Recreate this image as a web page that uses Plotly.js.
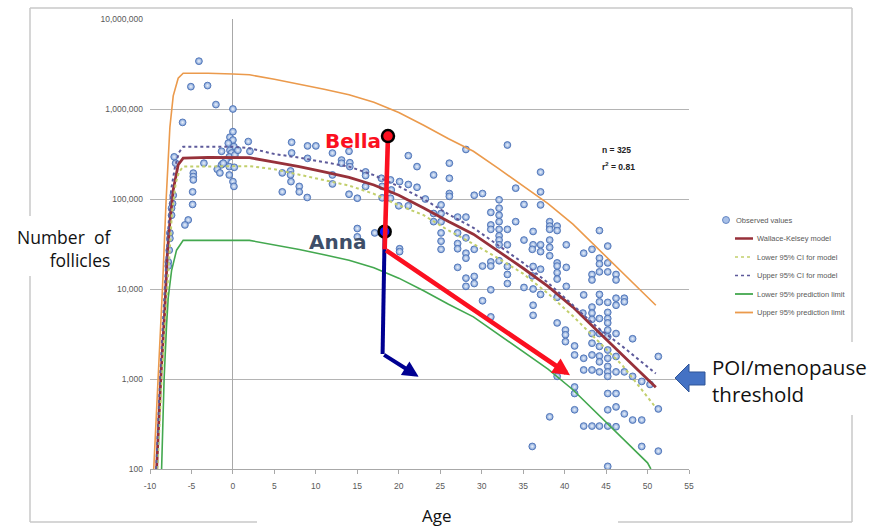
<!DOCTYPE html>
<html>
<head>
<meta charset="utf-8">
<script src="https://cdn.plot.ly/plotly-3.0.1.min.js"></script>
<style>
  html, body { margin: 0; padding: 0; background: #ffffff; }
  #chart { width: 873px; height: 527px; }
</style>
</head>
<body>
<div id="chart"></div>
<script>
// ---------------- data ----------------
// Observed non-growing follicle counts: age (years) and count
const obsAge = [
  -0.36, 0, -0.56, 0.12, -0.36, -0.16, -0.44, 0.24, 0.6, -0.84,
  -1.37, -1.37, -1.89, -1.57, -1.17, -0.44, 0.16, -0.44, 0, 0.12,
  -3.5, -4.78, -4.78, -4.78, -4.86, -4.86, -5.39, -5.79, -7.08, -6.91,
  -7.2, -7.28, -7.4, -7.4, -7.6, -7.6, -7.68, -7.8, -7.8, 1.85,
  -4.1, -5.07, -3.06, -2.05, 0, -6.07, 0,
  2.05, 7.08, 7.08, 9.0, 10.0, 9.0, 12.0, 14.0, 13.1, 13.1,
  14.1, 14.1, 5.95, 6.95, 6.95, 7.0, 5.95, 8.0, 8.0, 8.96,
  12.0, 12.0, 14.0, 15.0, 16.0, 16.0, 16.0, 17.9, 19.0, 20.1,
  18.0, 19.1, 18.0, 19.0, 20.0, 15.0, 15.0, 17.1, 20.1, 20.1,
  21.15, 22.2, 21.15, 22.2, 21.15, 23.2, 24.2, 26.1, 26.1, 26.1,
  26.1, 28.1, 29.1, 30.1, 33.1, 34.1, 24.2, 24.2, 25.1, 25.1,
  25.1, 25.1, 25.1, 25.1, 27.1, 28.1, 28.1, 27.1, 27.1, 28.1,
  28.1, 27.1, 29.1, 30.1, 31.1, 31.1, 31.1, 31.1, 31.1, 32.1,
  32.1, 32.1, 32.1, 32.1, 32.1, 32.1, 32.1, 32.1, 33.1, 33.1,
  33.1, 33.1, 33.1, 34.1, 35.1, 35.1, 36.2, 36.2, 36.2, 36.2,
  36.2, 36.2, 35.1, 28.1, 28.1, 29.1, 29.1, 31.1, 30.1, 31.1,
  27.1,
  37.1, 37.1, 37.1, 38.2, 38.2, 38.2, 39.1, 39.1, 36.1, 37.1,
  37.1, 38.2, 38.2, 38.2, 40.2, 42.3, 36.1, 37.1, 39.1, 39.1,
  39.1, 40.2, 39.1, 40.2, 37.1, 39.1, 39.1, 40.1, 40.1, 40.1,
  41.2, 41.2, 42.2, 42.3, 42.3, 42.3, 41.2, 41.2, 41.2, 42.3,
  38.2, 36.1, 39.1,
  43.3, 43.3, 43.3, 43.3, 43.3, 43.3, 43.3, 43.3, 43.3, 43.3,
  43.3,
  44.2, 44.2, 44.2, 44.2, 44.2, 44.2, 44.2, 44.2, 44.2, 44.2,
  44.2, 44.2, 44.2,
  45.2, 45.2, 45.2, 45.2, 45.2, 45.2, 45.2, 45.2, 45.2, 45.2,
  45.2, 45.2, 45.2, 45.2, 45.2, 45.2, 45.2, 45.2,
  46.2, 46.2, 46.2, 46.2, 46.2, 46.2, 46.2, 46.2, 46.2, 46.2,
  47.2, 47.2, 47.2, 47.2,
  48.2, 48.2, 48.2,
  49.3, 49.3, 49.3,
  50.3,
  51.3, 51.3, 51.3
];
const obsCount = [
  486000, 452000, 417000, 382000, 348000, 325000, 294000, 309000, 348000, 271000,
  339000, 240000, 214000, 195000, 250000, 229000, 225000, 185000, 156000, 138000,
  250000, 194000, 178000, 163000, 120000, 87000, 58500, 51500, 294000, 250000,
  110000, 89000, 79000, 66000, 42000, 36500, 27000, 20000, 18000, 435000,
  3400000, 1770000, 1820000, 1120000, 1000000, 710000, 560000,
  339000, 427000, 325000, 389000, 389000, 283000, 324000, 339000, 271000, 250000,
  253000, 229000, 195000, 205000, 185000, 156000, 120000, 138000, 120000, 104000,
  185000, 147000, 113000, 102000, 200000, 182000, 138000, 170000, 163000, 156000,
  138000, 126000, 103000, 102000, 84000, 47000, 38000, 42000, 28000, 26000,
  303000, 229000, 145000, 135000, 84000, 100000, 185000, 250000, 170000, 115000,
  107000, 355000, 110000, 115000, 398000, 132000, 69000, 56000, 86000, 69000,
  56000, 42000, 34000, 27600, 63000, 63000, 37000, 32000, 28000, 25000,
  22000, 17400, 27600, 18000, 71000, 51500, 46000, 20000, 18000, 98000,
  79000, 66000, 56000, 46000, 39000, 35000, 31000, 20600, 46000, 31000,
  17800, 14500, 11500, 56000, 87000, 35000, 43600, 31000, 17800, 10000,
  6600, 5100, 10400, 13200, 10700, 13800, 11500, 9800, 7400, 4900,
  42000,
  199000, 120000, 86000, 56000, 50000, 46000, 50000, 44600, 27600, 31000,
  26000, 35000, 29000, 23400, 31000, 25000, 14000, 16600, 19500, 18000,
  15200, 17400, 12900, 10700, 8700, 8100, 4200, 3500, 3100, 2600,
  2330, 1850, 5400, 8600, 1700, 1260, 815, 690, 455, 300,
  380, 178, 1070,
  27600, 14500, 12600, 6300, 5400, 4600, 3200, 2500, 1850, 1260,
  300,
  44600, 22000, 19000, 15500, 8700, 7200, 4700, 3200, 2300, 1800,
  1550, 1200, 300,
  30000, 19500, 15500, 7100, 5500, 4700, 4200, 3500, 2950, 2100,
  1700, 1380, 1200, 1070, 690, 455, 300, 107,
  14500, 12600, 7900, 6600, 3200, 1780, 1200, 690, 490, 295,
  7900, 7200, 1200, 410,
  2800, 1070, 350,
  940, 350, 178,
  870,
  1780, 465, 158
];

// Wallace-Kelsey model curve
const modelAge   = [-9.2, -8.7, -8.2, -7.9, -7.6, -7.2, -6.6, -6.0, -3, 0, 2, 5, 8, 11, 14, 17, 20, 23, 26, 29, 32, 35, 38, 41, 44, 47, 50, 51];
const modelCount = [100, 1000, 6300, 25000, 56000, 126000, 240000, 285000, 290000, 288000, 288000, 257000, 229000, 200000, 174000, 143000, 110000, 79400, 56200, 40700, 26300, 17000, 10700, 6300, 3390, 1820, 980, 810];

// 95% confidence interval for the model
const lowerCIAge   = [-9.1, -8.6, -8.1, -7.75, -7.35, -6.9, -6.5, -6.0, -3, 0, 2, 5, 8, 11, 14, 17, 20, 23, 26, 29, 32, 35, 38, 41, 44, 47, 50, 51];
const lowerCICount = [100, 1000, 5000, 20000, 70000, 150000, 200000, 229000, 230000, 232000, 232000, 214000, 186000, 162000, 141000, 114000, 85100, 66100, 44700, 31600, 21900, 14800, 8900, 5000, 2630, 1410, 630, 480];
const upperCIAge   = [-9.25, -8.75, -8.25, -7.85, -7.45, -7.0, -6.5, -6.0, -3, 0, 2, 5, 8, 11, 14, 17, 20, 23, 26, 29, 32, 35, 38, 41, 44, 47, 50, 51];
const upperCICount = [100, 1200, 9000, 40000, 126000, 224000, 330000, 380000, 380000, 380000, 367000, 316000, 288000, 257000, 229000, 184000, 138000, 100000, 67600, 47900, 30200, 19500, 11700, 6600, 3720, 2290, 1350, 1150];

// 95% prediction limits
const lowerPIAge   = [-8.6, -8.3, -8.0, -7.8, -7.4, -6.8, -6.0, -3, 0, 2, 5, 8, 11, 14, 17, 20, 23, 26, 29, 32, 35, 38, 41, 44, 47, 50, 50.4];
const lowerPICount = [100, 1000, 4000, 8000, 16000, 27000, 34700, 35000, 34700, 34700, 30900, 27500, 24000, 20900, 17200, 13200, 9550, 6760, 4900, 3160, 2040, 1290, 760, 410, 219, 117, 100];
const upperPIAge   = [-9.55, -9.0, -8.5, -8.05, -7.6, -7.2, -6.6, -6.0, -3, 0, 2, 5, 8, 11, 14, 17, 20, 23, 26, 29, 32, 35, 38, 41, 44, 47, 50, 51];
const upperPICount = [100, 1000, 10000, 100000, 630000, 1400000, 2200000, 2500000, 2500000, 2450000, 2400000, 2140000, 1900000, 1660000, 1440000, 1190000, 912000, 661000, 468000, 339000, 219000, 141000, 89000, 52500, 28200, 15100, 8100, 6600];

// Two example trajectories: start, bend, arrow tip
const bellaAge   = [18.7, 18.3, 40.65];
const bellaCount = [500000, 27600, 1100];
const annaAge    = [18.3, 18.05, 22.4];
const annaCount  = [43400, 1900, 1060];

// Axis ticks
const xTickVals = [-10, -5, 0, 5, 10, 15, 20, 25, 30, 35, 40, 45, 50, 55];
const xTickText = ['-10', '-5', '0', '5', '10', '15', '20', '25', '30', '35', '40', '45', '50', '55'];
const yTickVals = [100, 1000, 10000, 100000, 1000000, 10000000];
const yTickText = ['100', '1,000', '10,000', '100,000', '1,000,000', '10,000,000'];

// Legend entries
const legendLabels = ['Observed values', 'Wallace-Kelsey model', 'Lower 95% CI for model',
                      'Upper 95% CI for model', 'Lower 95% prediction limit', 'Upper 95% prediction limit'];

// ---------------- styling ----------------
const C = {
  obsFill: '#7c9fd6', obsEdge: '#4d72b6', obsCore: '#eef3fb',
  model: '#97313a', lowerCI: '#c2cf6c', upperCI: '#5d5a9a',
  lowerPI: '#43a84f', upperPI: '#eb9a4c',
  bella: '#fb1020', anna: '#000092', grid: '#b4b4b4', tick: '#595959', frame: '#c9c9c9'
};

// page-pixel helpers for the decorations around the plot area
const X0 = 150, X1 = 689, Y0 = 19, Y1 = 469;
const px = x => (x - X0) / (X1 - X0);
const py = y => (Y1 - y) / (Y1 - Y0);

function curve(x, y, color, width, dash) {
  return { type: 'scatter', mode: 'lines', x: x, y: y, hoverinfo: 'skip',
           line: { color: color, width: width, dash: dash || 'solid' } };
}

const traces = [
  { type: 'scatter', mode: 'markers', x: obsAge, y: obsCount, hoverinfo: 'skip',
    marker: { size: 6.8, color: C.obsFill, line: { color: C.obsEdge, width: 0.9 },
              gradient: { type: 'radial', color: C.obsCore } } },
  curve(modelAge, modelCount, C.model, 2.8),
  curve(lowerCIAge, lowerCICount, C.lowerCI, 2, 'dot'),
  curve(upperCIAge, upperCICount, C.upperCI, 2, 'dot'),
  curve(lowerPIAge, lowerPICount, C.lowerPI, 1.6),
  curve(upperPIAge, upperPICount, C.upperPI, 1.6),
  // trajectory legs up to the bend; the final leg is drawn as an arrow below
  curve(annaAge.slice(0, 2), annaCount.slice(0, 2), C.anna, 4),
  { type: 'scatter', mode: 'markers', x: [annaAge[0]], y: [annaCount[0]], hoverinfo: 'skip',
    marker: { size: 12, color: '#0a14ff', line: { color: '#000000', width: 2.5 } } },
  curve(bellaAge.slice(0, 2), bellaCount.slice(0, 2), C.bella, 4.6),
  { type: 'scatter', mode: 'markers', x: [bellaAge[0]], y: [bellaCount[0]], hoverinfo: 'skip',
    marker: { size: 12, color: C.bella, line: { color: '#000000', width: 2.5 } } }
];

// outer frame, broken where the labels sit
function seg(x0, y0, x1, y1) {
  return { type: 'line', xref: 'paper', yref: 'paper', layer: 'above',
           x0: px(x0), y0: py(y0), x1: px(x1), y1: py(y1),
           line: { color: C.frame, width: 1.5 } };
}
const shapes = [
  seg(30, 8, 852, 8),
  seg(30, 8, 30, 216), seg(30, 276, 30, 522),
  seg(852, 8, 852, 342), seg(852, 415, 852, 522),
  seg(30, 522, 257, 522), seg(618, 522, 852, 522)
];

// block arrow pointing at the 1,000 line
const arrowPts = [[675, 378], [689, 364], [689, 372], [705, 372], [705, 385], [689, 385], [689, 392]];
shapes.push({ type: 'path', xref: 'paper', yref: 'paper', layer: 'above',
  path: 'M' + arrowPts.map(p => px(p[0]).toFixed(5) + ',' + py(p[1]).toFixed(5)).join(' L') + ' Z',
  fillcolor: '#4472c4', line: { color: '#2f5597', width: 1 } });

// legend glyphs
const legendY = [220, 238.5, 257, 275.5, 294, 312.5];
const legendStyle = [null,
  { color: C.model, width: 2.5, dash: 'solid' },
  { color: C.lowerCI, width: 1.5, dash: 'dot' },
  { color: C.upperCI, width: 1.5, dash: 'dot' },
  { color: C.lowerPI, width: 1.8, dash: 'solid' },
  { color: C.upperPI, width: 1.8, dash: 'solid' }];
shapes.push({ type: 'circle', xref: 'paper', yref: 'paper', layer: 'above',
  x0: px(722.5), x1: px(729.5), y0: py(legendY[0] + 3.5), y1: py(legendY[0] - 3.5),
  fillcolor: '#a8c0e8', line: { color: C.obsEdge, width: 0.8 } });
for (let i = 1; i < legendLabels.length; i++) {
  shapes.push({ type: 'line', xref: 'paper', yref: 'paper', layer: 'above',
    x0: px(735), x1: px(753), y0: py(legendY[i]), y1: py(legendY[i]), line: legendStyle[i] });
}

const legendFont = { family: 'Liberation Sans, Arial, sans-serif', size: 7.5, color: C.tick };
const annotations = legendLabels.map((t, i) => ({
  xref: 'paper', yref: 'paper', x: px(i === 0 ? 734 : 755), y: py(legendY[i]),
  xanchor: 'left', yanchor: 'middle', showarrow: false, text: t, font: legendFont
}));

// final legs of the trajectories, with arrowheads (log axis takes log10 positions)
function legArrow(ages, counts, color, width, headSize) {
  return { xref: 'x', yref: 'y', axref: 'x', ayref: 'y',
           x: ages[2], y: Math.log10(counts[2]), ax: ages[1], ay: Math.log10(counts[1]),
           text: '', showarrow: true, arrowhead: 2, arrowsize: headSize, arrowwidth: width,
           arrowcolor: color, standoff: 0, startstandoff: 0 };
}
annotations.push(legArrow(annaAge, annaCount, C.anna, 4, 0.8),
                 legArrow(bellaAge, bellaCount, C.bella, 4.6, 0.75));

const labelFont = { family: 'Open Sans, sans-serif', color: '#111111' };
annotations.push(
  { xref: 'paper', yref: 'paper', x: px(600), y: py(150), xanchor: 'left', yanchor: 'middle',
    showarrow: false, text: '<b>n = 325</b>',
    font: { family: 'Liberation Sans, Arial, sans-serif', size: 8.5, color: '#222222' } },
  { xref: 'paper', yref: 'paper', x: px(600), y: py(166), xanchor: 'left', yanchor: 'middle',
    showarrow: false, text: '<b>r<sup>2</sup> = 0.81</b>',
    font: { family: 'Liberation Sans, Arial, sans-serif', size: 8.5, color: '#222222' } },
  { xref: 'paper', yref: 'paper', x: px(383), y: py(141), xanchor: 'right', yanchor: 'middle',
    showarrow: false, text: '<b>Bella</b>',
    font: { family: 'DejaVu Sans, Verdana, sans-serif', size: 20, color: C.bella } },
  { xref: 'paper', yref: 'paper', x: px(368), y: py(242), xanchor: 'right', yanchor: 'middle',
    showarrow: false, text: '<b>Anna</b>',
    font: { family: 'DejaVu Sans, Verdana, sans-serif', size: 20, color: '#3e4e68' } },
  { xref: 'paper', yref: 'paper', x: px(113), y: py(248), xanchor: 'right', yanchor: 'middle',
    align: 'right', showarrow: false, text: 'Number\u00a0\u00a0of<br>follicles',
    font: Object.assign({ size: 17.5 }, labelFont) },
  { xref: 'paper', yref: 'paper', x: px(437), y: py(515), xanchor: 'center', yanchor: 'middle',
    showarrow: false, text: 'Age', font: Object.assign({ size: 17 }, labelFont) },
  { xref: 'paper', yref: 'paper', x: px(710), y: py(380), xanchor: 'left', yanchor: 'middle',
    align: 'left', showarrow: false, text: 'POI/menopause<br>threshold',
    font: Object.assign({ size: 20.5 }, labelFont) }
);

const tickFont = { family: 'Liberation Sans, Arial, sans-serif', size: 8.5, color: C.tick };

const layout = {
  width: 873, height: 527,
  margin: { l: X0, r: 873 - X1, t: Y0, b: 527 - Y1, pad: 0 },
  paper_bgcolor: '#ffffff', plot_bgcolor: '#ffffff',
  showlegend: false,
  xaxis: {
    type: 'linear', range: [-10, 55], tickmode: 'array', tickvals: xTickVals, ticktext: xTickText,
    showgrid: false, zeroline: true, zerolinecolor: '#a8a8a8', zerolinewidth: 1,
    showline: true, linecolor: '#a8a8a8', linewidth: 1,
    ticks: 'outside', ticklen: 4, tickcolor: '#a8a8a8', tickfont: tickFont, ticklabelstandoff: 5,
    fixedrange: true
  },
  yaxis: {
    type: 'log', range: [2, 7], tickmode: 'array', tickvals: yTickVals, ticktext: yTickText,
    showgrid: true, gridcolor: C.grid, gridwidth: 1, zeroline: false, showline: false,
    ticks: '', tickfont: tickFont, ticklabelstandoff: 6, fixedrange: true
  },
  shapes: shapes,
  annotations: annotations
};

Plotly.newPlot('chart', traces, layout, { displayModeBar: false, staticPlot: true });
</script>
</body>
</html>
